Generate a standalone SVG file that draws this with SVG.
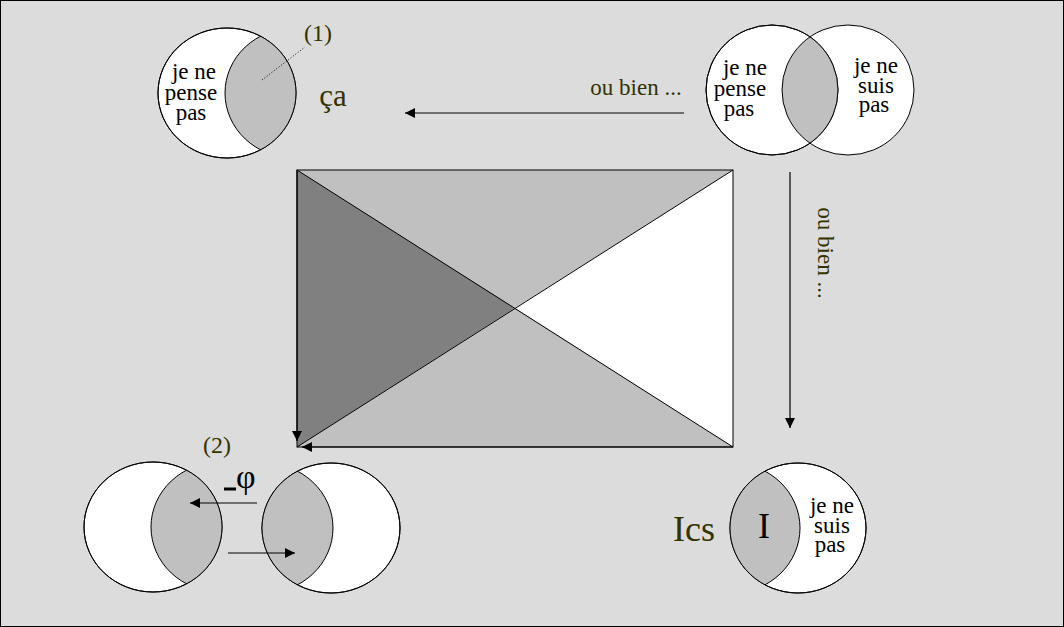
<svg xmlns="http://www.w3.org/2000/svg" width="1064" height="627" viewBox="0 0 1064 627">
<style>
.c{fill:#fff;stroke:#000;stroke-width:1}
.l{fill:#c0c0c0;stroke:#000;stroke-width:1}
.t{font-family:"Liberation Serif","DejaVu Serif",serif;fill:#000}
.o{font-family:"Liberation Serif","DejaVu Serif",serif;fill:#333300}
.a{stroke:#000;stroke-width:1.2;fill:none;marker-end:url(#ar)}
</style>
<defs>
<marker id="ar" viewBox="0 0 10 10" refX="10" refY="5" markerWidth="10" markerHeight="10" markerUnits="userSpaceOnUse" orient="auto"><path d="M0,0 L10,5 L0,10 z" fill="#000"/></marker>
<clipPath id="k1"><ellipse cx="227" cy="93" rx="69" ry="65"/></clipPath>
<clipPath id="k3"><ellipse cx="798" cy="528" rx="68" ry="65"/></clipPath>
<clipPath id="k4"><ellipse cx="153" cy="527" rx="69" ry="65"/></clipPath>
<clipPath id="k5"><ellipse cx="331" cy="528" rx="69" ry="65"/></clipPath>
<clipPath id="k2"><ellipse cx="772" cy="90" rx="66" ry="65"/></clipPath>
</defs>
<rect x="0.5" y="0.5" width="1063" height="626" fill="#dcdcdc" stroke="#000"/>
<g id="rect">
<polygon points="297,170 733,170 515,308" fill="#c0c0c0"/>
<polygon points="297,170 515,308 297,447" fill="#808080"/>
<polygon points="733,170 733,447 515,308" fill="#fff"/>
<polygon points="297,447 515,308 733,447" fill="#c0c0c0"/>
<rect x="297" y="170" width="436" height="277" fill="none" stroke="#000"/>
<path d="M297,170 L733,447 M733,170 L297,447" stroke="#000" fill="none"/>
</g>
<g id="n1">
<ellipse class="c" cx="227" cy="93" rx="69" ry="65"/>
<ellipse class="l" cx="294" cy="93" rx="69" ry="65" clip-path="url(#k1)"/>
<ellipse cx="227" cy="93" rx="69" ry="65" fill="none" stroke="#000"/>
<text class="t" font-size="23" text-anchor="middle"><tspan x="194" y="79">je ne</tspan><tspan x="191" y="100">pense</tspan><tspan x="191" y="120">pas</tspan></text>
<text class="o" x="318" y="41" font-size="24" text-anchor="middle">(1)</text>
<path d="M262,80 L305,47" stroke="#000" stroke-dasharray="1,2"/>
<text class="o" x="333" y="106" font-size="31" text-anchor="middle">ça</text>
</g>
<g id="n2">
<ellipse class="c" cx="848" cy="90" rx="66" ry="65"/>
<ellipse class="c" cx="772" cy="90" rx="66" ry="65"/>
<ellipse class="l" cx="848" cy="90" rx="66" ry="65" clip-path="url(#k2)"/>
<ellipse cx="772" cy="90" rx="66" ry="65" fill="none" stroke="#000"/>
<text class="t" font-size="23" text-anchor="middle"><tspan x="745" y="75">je ne</tspan><tspan x="740" y="96">pense</tspan><tspan x="739" y="116">pas</tspan></text>
<text class="t" font-size="23" text-anchor="middle"><tspan x="876" y="73">je ne</tspan><tspan x="876" y="93">suis</tspan><tspan x="874" y="112">pas</tspan></text>
<text class="o" x="636" y="95" font-size="23" text-anchor="middle">ou bien ...</text>
</g>
<g id="n3">
<ellipse class="c" cx="798" cy="528" rx="68" ry="65"/>
<ellipse class="l" cx="732" cy="528" rx="68" ry="65" clip-path="url(#k3)"/>
<ellipse cx="798" cy="528" rx="68" ry="65" fill="none" stroke="#000"/>
<text class="t" x="764" y="538" font-size="36" text-anchor="middle">I</text>
<text class="o" x="694" y="541" font-size="36" text-anchor="middle">Ics</text>
<text class="t" font-size="23" text-anchor="middle"><tspan x="832" y="513">je ne</tspan><tspan x="832" y="533">suis</tspan><tspan x="830" y="552">pas</tspan></text>
<text class="o" x="818" y="253" font-size="23" text-anchor="middle" transform="rotate(90 818 253)">ou bien ...</text>
</g>
<g id="n4">
<ellipse class="c" cx="153" cy="527" rx="69" ry="65"/>
<ellipse class="l" cx="220" cy="527" rx="69" ry="65" clip-path="url(#k4)"/>
<ellipse cx="153" cy="527" rx="69" ry="65" fill="none" stroke="#000"/>
<ellipse class="c" cx="331" cy="528" rx="69" ry="65"/>
<ellipse class="l" cx="264" cy="528" rx="69" ry="65" clip-path="url(#k5)"/>
<ellipse cx="331" cy="528" rx="69" ry="65" fill="none" stroke="#000"/>
<text class="o" x="217" y="453" font-size="24" text-anchor="middle">(2)</text>
<text class="t" x="236" y="488" font-size="34">φ</text>
<path d="M224,489 L236,489" stroke="#000" stroke-width="3"/>
</g>
<g id="connectors">
<path class="a" d="M684,113 L405,113"/>
<path class="a" d="M790,172 L790,428"/>
<path class="a" d="M297,170 L297,441"/>
<path class="a" d="M733,447 L302,447"/>
<path class="a" d="M257,503 L190,503"/>
<path class="a" d="M228,553 L295,553"/>
</g>
</svg>
